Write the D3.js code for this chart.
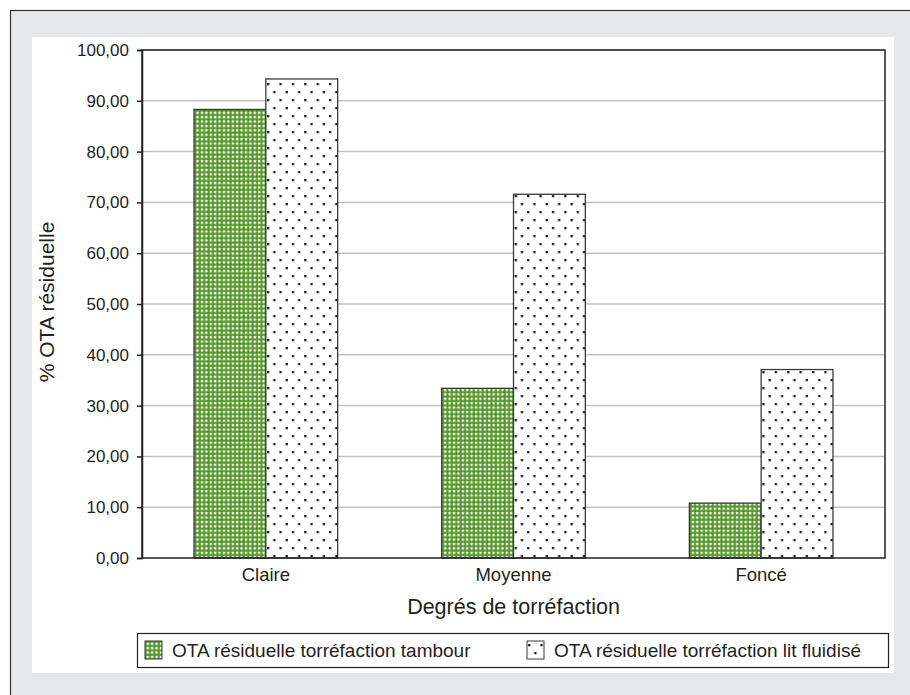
<!DOCTYPE html>
<html>
<head>
<meta charset="utf-8">
<script src="https://cdn.jsdelivr.net/npm/d3@7"></script>
<style>
  body { margin: 0; background: #fff; }
  text { font-family: "Liberation Sans", Arial, sans-serif; fill: #231f20; }
</style>
</head>
<body>
<svg id="chart"></svg>
<script>
// data
const categories = ["Claire", "Moyenne", "Foncé"];
const seriesNames = ["OTA résiduelle torréfaction tambour", "OTA résiduelle torréfaction lit fluidisé"];
const tambour = [88.3, 33.4, 10.8];
const litFluidise = [94.3, 71.6, 37.1];
const yTicks = [0, 10, 20, 30, 40, 50, 60, 70, 80, 90, 100];

const width = 910, height = 695;
const plot = { left: 142, top: 50, right: 885, bottom: 558 };

const svg = d3.select("#chart")
  .attr("width", width)
  .attr("height", height);

// patterns
const defs = svg.append("defs");
const green = defs.append("pattern")
  .attr("id", "green")
  .attr("patternUnits", "userSpaceOnUse")
  .attr("width", 4.4).attr("height", 4.4);
green.append("rect").attr("width", 4.4).attr("height", 4.4).attr("fill", "#55972a");
green.append("rect").attr("x", 1.6).attr("y", 1.6).attr("width", 2.3).attr("height", 2.3).attr("fill", "#fff");

const dots = defs.append("pattern")
  .attr("id", "dots")
  .attr("patternUnits", "userSpaceOnUse")
  .attr("width", 12.4).attr("height", 16);
dots.append("rect").attr("width", 12.4).attr("height", 16).attr("fill", "#fff");
dots.append("rect").attr("x", 1).attr("y", 3).attr("width", 2.3).attr("height", 2.3).attr("fill", "#231f20");
dots.append("rect").attr("x", 7.2).attr("y", 11).attr("width", 2.3).attr("height", 2.3).attr("fill", "#231f20");

const fills = ["url(#green)", "url(#dots)"];

// background frame
svg.append("rect")
  .attr("x", 10.5).attr("y", 10.5)
  .attr("width", 920).attr("height", 720)
  .attr("fill", "#e6e7e8")
  .attr("stroke", "#333").attr("stroke-width", 1.2);

svg.append("rect")
  .attr("x", 32).attr("y", 37)
  .attr("width", 862).attr("height", 636)
  .attr("fill", "#fff");

// scales
const x0 = d3.scaleBand()
  .domain(categories)
  .range([plot.left, plot.right]);

const x1 = d3.scaleBand()
  .domain([0, 1])
  .range([x0.bandwidth() * 0.21, x0.bandwidth() * 0.79]);

const y = d3.scaleLinear()
  .domain([0, 100])
  .range([plot.bottom, plot.top]);

// gridlines
svg.append("g")
  .selectAll("line")
  .data(yTicks.slice(1))
  .enter().append("line")
  .attr("x1", plot.left).attr("x2", plot.right)
  .attr("y1", d => y(d)).attr("y2", d => y(d))
  .attr("stroke", "#c2c2c2").attr("stroke-width", 1.5);

// bars
const rows = categories.map((c, i) => ({ cat: c, values: [tambour[i], litFluidise[i]] }));

svg.append("g")
  .selectAll("g")
  .data(rows)
  .enter().append("g")
  .attr("transform", d => "translate(" + x0(d.cat) + ",0)")
  .selectAll("rect")
  .data(d => d.values.map((v, k) => ({ k: k, v: v })))
  .enter().append("rect")
  .attr("x", d => x1(d.k))
  .attr("y", d => y(d.v))
  .attr("width", x1.bandwidth())
  .attr("height", d => plot.bottom - y(d.v))
  .attr("fill", d => fills[d.k])
  .attr("stroke", "#3a3a3a")
  .attr("stroke-width", 1.3);

// plot border
svg.append("rect")
  .attr("x", plot.left).attr("y", plot.top)
  .attr("width", plot.right - plot.left)
  .attr("height", plot.bottom - plot.top)
  .attr("fill", "none")
  .attr("stroke", "#231f20").attr("stroke-width", 1.5);

// y axis
const yAxis = d3.axisLeft(y)
  .tickValues(yTicks)
  .tickSize(5)
  .tickPadding(8)
  .tickFormat(d => d.toFixed(2).replace(".", ","));

const gy = svg.append("g")
  .attr("transform", "translate(" + plot.left + ",0)")
  .call(yAxis);
gy.select(".domain").attr("stroke", "#231f20").attr("stroke-width", 1.5);
gy.selectAll(".tick line").attr("stroke", "#231f20").attr("stroke-width", 1.5);
gy.selectAll(".tick text")
  .style("font-size", "17px")
  .style("font-family", "'Liberation Sans', Arial, sans-serif")
  .attr("fill", "#231f20");

// x axis labels
const xAxis = d3.axisBottom(x0).tickSize(0).tickPadding(10);
const gx = svg.append("g")
  .attr("transform", "translate(0," + plot.bottom + ")")
  .call(xAxis);
gx.select(".domain").remove();
gx.selectAll(".tick text")
  .style("font-size", "18.5px")
  .style("font-family", "'Liberation Sans', Arial, sans-serif")
  .attr("fill", "#231f20");

// axis titles
svg.append("text")
  .attr("x", (plot.left + plot.right) / 2)
  .attr("y", 614)
  .attr("text-anchor", "middle")
  .style("font-size", "21.5px")
  .text("Degrés de torréfaction");

svg.append("text")
  .attr("transform", "translate(54,302) rotate(-90)")
  .attr("text-anchor", "middle")
  .style("font-size", "21px")
  .text("% OTA résiduelle");

// legend
const legend = svg.append("g");
legend.append("rect")
  .attr("x", 137.5).attr("y", 633.5)
  .attr("width", 751).attr("height", 34)
  .attr("fill", "#fff")
  .attr("stroke", "#231f20").attr("stroke-width", 1.2);

const legendX = [145, 527];
legend.selectAll("g")
  .data(seriesNames)
  .enter().append("g")
  .attr("transform", (d, i) => "translate(" + legendX[i] + ",641)")
  .each(function(d, i) {
    const g = d3.select(this);
    g.append("rect")
      .attr("width", 17).attr("height", 18)
      .attr("fill", fills[i])
      .attr("stroke", "#3a3a3a").attr("stroke-width", 1);
    g.append("text")
      .attr("x", 27).attr("y", 16)
      .style("font-size", "19px")
      .text(d);
  });
</script>
</body>
</html>
